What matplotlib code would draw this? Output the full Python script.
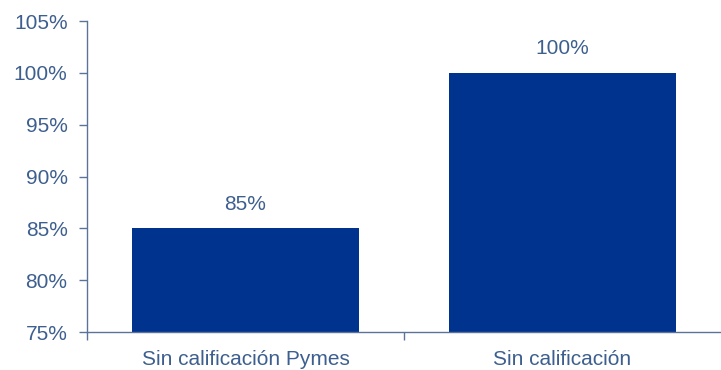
import matplotlib.pyplot as plt
from matplotlib.ticker import FuncFormatter

categories = ["Sin calificación Pymes", "Sin calificación"]
values = [85, 100]
y_ticks = [75, 80, 85, 90, 95, 100, 105]

BAR_COLOR = "#00338d"
TEXT_COLOR = "#3d5f8f"
AXIS_COLOR = "#5c7399"
FS = 15

plt.rcParams["font.family"] = ["Liberation Sans", "DejaVu Sans"]

fig = plt.figure(figsize=(7.21, 3.70), dpi=100)
ax = fig.add_axes([87 / 721, 38 / 370, 634 / 721, 311 / 370])

x = range(len(categories))
ax.bar(x, values, width=0.713, color=BAR_COLOR, zorder=2)
for xi, v in zip(x, values):
    ax.text(xi, v + 1.4, f"{v}%", ha="center", va="bottom",
            fontsize=FS, color=TEXT_COLOR)

ax.set_ylim(75, 105)
ax.set_yticks(y_ticks)
ax.yaxis.set_major_formatter(FuncFormatter(lambda v, _: f"{v:.0f}%"))
ax.set_xlim(-0.5, len(categories) - 0.5)

# separator ticks between categories, labels sit on minor ticks
ax.set_xticks([-0.5, 0.5])
ax.set_xticklabels([])
ax.set_xticks(list(x), minor=True)
ax.set_xticklabels(categories, minor=True)
ax.tick_params(axis="x", which="minor", length=0, pad=13,
               labelsize=FS, labelcolor=TEXT_COLOR)
ax.tick_params(axis="x", which="major", length=6, width=1, color=AXIS_COLOR)
ax.tick_params(axis="y", length=6, width=1, color=AXIS_COLOR,
               labelsize=FS, labelcolor=TEXT_COLOR, pad=8)

for side in ["top", "right"]:
    ax.spines[side].set_visible(False)
for side in ["left", "bottom"]:
    ax.spines[side].set_color(AXIS_COLOR)
    ax.spines[side].set_linewidth(1)

fig.savefig("out.png", dpi=100)
